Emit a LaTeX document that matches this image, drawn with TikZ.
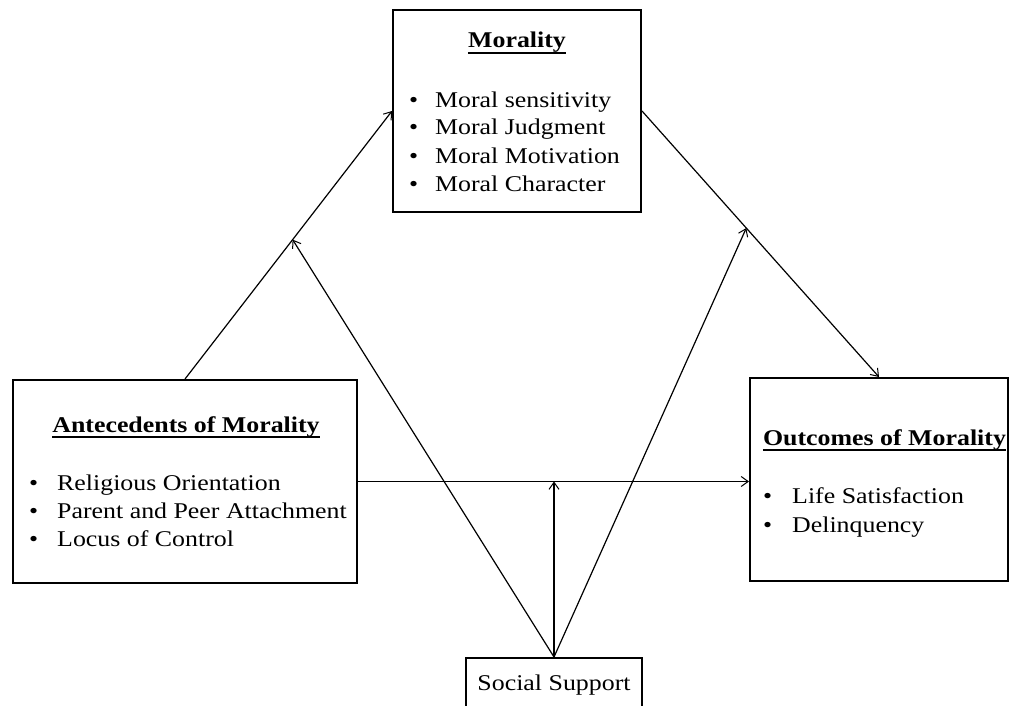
\documentclass[tikz,border=0pt]{standalone}
\usepackage{fontspec}
\setmainfont{Liberation Serif}[FakeStretch=1.15]
\usetikzlibrary{calc,arrows.meta}

\begin{document}
\begin{tikzpicture}[x=1pt,y=-1pt,
  box/.style={draw,line width=2pt,rectangle,inner sep=0pt},
  arr/.style={line width=1.2pt,-{Straight Barb[length=7pt,width=10pt,line width=1pt]}},
  item/.style={anchor=base west,inner sep=0pt,font=\fontsize{22.5}{27}\selectfont},
  ttl/.style={anchor=base,inner sep=0pt,font=\fontsize{22.5}{27}\selectfont\bfseries},
  uline/.style={line width=1.6pt}]

\clip (0,0) rectangle (1011,706);
\fill[white] (0,0) rectangle (1011,706);

% boxes
\node[box,minimum width=248pt,minimum height=202pt] (mor) at (517,111) {};
\node[box,minimum width=344pt,minimum height=203pt] (ant) at (185,481.5) {};
\node[box,minimum width=258pt,minimum height=203pt] (out) at (879,479.5) {};
\node[box,minimum width=176pt,minimum height=72pt] (soc) at (554,694) {};

% Morality
\node[ttl] (morT) at (517,48) {Morality};
\draw[uline] ($(morT.base west)+(0,5)$) -- ($(morT.base east)+(0,5)$);
\node[item] (m1) at (409,107) {\makebox[26pt][l]{•}Moral sensitivity};
\node[item] (m2) at (409,135) {\makebox[26pt][l]{•}Moral Judgment};
\node[item] (m3) at (409,163) {\makebox[26pt][l]{•}Moral Motivation};
\node[item] (m4) at (409,191) {\makebox[26pt][l]{•}Moral Character};

% Antecedents
\node[ttl] (antT) at (186,432) {Antecedents of Morality};
\draw[uline] ($(antT.base west)+(0,5)$) -- ($(antT.base east)+(0,5)$);
\node[item] (a1) at (29,490) {\makebox[28pt][l]{•}Religious Orientation};
\node[item] (a2) at (29,518) {\makebox[28pt][l]{•}Parent and Peer Attachment};
\node[item] (a3) at (29,546) {\makebox[28pt][l]{•}Locus of Control};

% Outcomes
\node[ttl] (outT) at (884.5,445) {Outcomes of Morality};
\draw[uline] ($(outT.base west)+(0,5)$) -- ($(outT.base east)+(0,5)$);
\node[item] (o1) at (763,503) {\makebox[29pt][l]{•}Life Satisfaction};
\node[item] (o2) at (763,532) {\makebox[29pt][l]{•}Delinquency};

% Social support
\node[anchor=base,inner sep=0pt,font=\fontsize{22.5}{27}\selectfont] (socT) at (554,690) {Social Support};

% connectors
\coordinate (j1) at ($(ant.north)!0.52!(mor.west)$);
\coordinate (j2) at ($(mor.east)!0.44!(out.north)$);
\draw[arr] (ant.north) -- (mor.west);
\draw[arr] (mor.east) -- (out.north);
\draw[arr] (ant.east) -- (ant.east -| out.west);
\draw[arr] (soc.north) -- (j1);
\draw[arr] (soc.north) -- (j2);
\draw[arr] (soc.north) -- (soc.north |- ant.east);
\end{tikzpicture}
\end{document}
